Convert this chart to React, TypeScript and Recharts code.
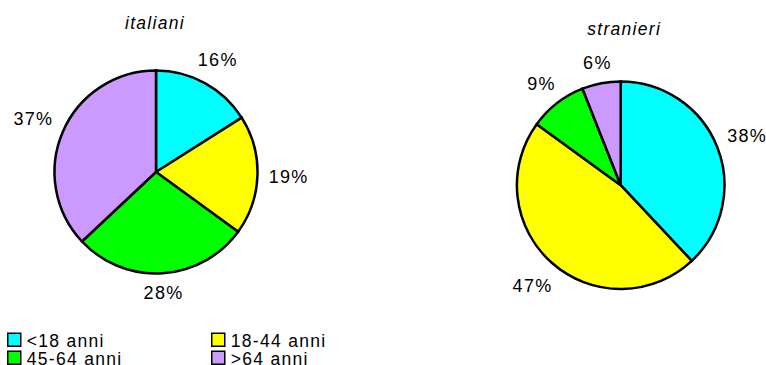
import React from "react";
import { PieChart, Pie, Cell } from "recharts";

// Age groups, shared by both pies and the legend
const categories = ["<18 anni", "18-44 anni", "45-64 anni", ">64 anni"];
const sliceColors = ["#00FFFF", "#FFFF00", "#00FF00", "#CC99FF"];

// Share of each age group, in percent
const italianiValues = [16, 19, 28, 37];
const stranieriValues = [38, 47, 9, 6];

const groupTitles = ["italiani", "stranieri"];

const FONT = "Arial, 'Liberation Sans', Helvetica, sans-serif";
const RAD = Math.PI / 180;

const italianiData = categories.map((name, i) => ({ name, value: italianiValues[i] }));
const stranieriData = categories.map((name, i) => ({ name, value: stranieriValues[i] }));

// Percent label placed just outside the slice, pushed out by the size of its text box
const renderPercentLabel = (props: any) => {
  const { cx, cy, midAngle, outerRadius, value, index } = props;
  const text = `${value}%`;
  const fontSize = 18;
  const w = String(value).length * 11 + 18;
  const h = 14;
  const cos = Math.cos(-midAngle * RAD);
  const sin = Math.sin(-midAngle * RAD);
  const dist = outerRadius + 11 + (w / 2) * Math.abs(cos) + (h / 2) * Math.abs(sin);
  const x = cx + dist * cos;
  const y = cy + dist * sin + 0.358 * fontSize;
  return (
    <text
      key={`lbl-${index}`}
      x={x}
      y={y}
      textAnchor="middle"
      fontFamily={FONT}
      fontSize={fontSize}
      letterSpacing={1.3}
      fill="#000"
    >
      {text}
    </text>
  );
};

const LegendBlock = () => {
  const cols = [7.75, 211.75];
  const rows = [333.25, 351.25];
  return (
    <g>
      {categories.map((name, i) => {
        const col = i % 2;
        const row = Math.floor(i / 2);
        const x = cols[col];
        const y = rows[row];
        return (
          <g key={name}>
            <rect
              x={x}
              y={y}
              width={13}
              height={13}
              fill={sliceColors[i]}
              stroke="#000"
              strokeWidth={1.5}
            />
            <text
              x={x + 19}
              y={y + 13.3}
              fontFamily={FONT}
              fontSize={17.5}
              letterSpacing={1.3}
              fill="#000"
            >
              {name}
            </text>
          </g>
        );
      })}
    </g>
  );
};

export default function App() {
  return (
    <div style={{ position: "absolute", left: 0, top: 0, width: 766, height: 365, background: "#fff" }}>
      <PieChart width={766} height={365} margin={{ top: 0, right: 0, bottom: 0, left: 0 }}>
        <Pie
          data={italianiData}
          dataKey="value"
          nameKey="name"
          cx={156}
          cy={172}
          outerRadius={101.5}
          startAngle={90}
          endAngle={-270}
          stroke="#000"
          strokeWidth={2.5}
          label={renderPercentLabel}
          labelLine={false}
          isAnimationActive={false}
        >
          {italianiData.map((d, i) => (
            <Cell key={d.name} fill={sliceColors[i]} />
          ))}
        </Pie>
        <Pie
          data={stranieriData}
          dataKey="value"
          nameKey="name"
          cx={620.7}
          cy={185.2}
          outerRadius={103.8}
          startAngle={90}
          endAngle={-270}
          stroke="#000"
          strokeWidth={2.5}
          label={renderPercentLabel}
          labelLine={false}
          isAnimationActive={false}
        >
          {stranieriData.map((d, i) => (
            <Cell key={d.name} fill={sliceColors[i]} />
          ))}
        </Pie>
        <text
          x={155}
          y={29.3}
          textAnchor="middle"
          fontFamily={FONT}
          fontSize={17.5}
          fontStyle="italic"
          letterSpacing={1.3}
          fill="#000"
        >
          {groupTitles[0]}
        </text>
        <text
          x={624.2}
          y={34.5}
          textAnchor="middle"
          fontFamily={FONT}
          fontSize={17.5}
          fontStyle="italic"
          letterSpacing={1.3}
          fill="#000"
        >
          {groupTitles[1]}
        </text>
        <LegendBlock />
      </PieChart>
    </div>
  );
}
